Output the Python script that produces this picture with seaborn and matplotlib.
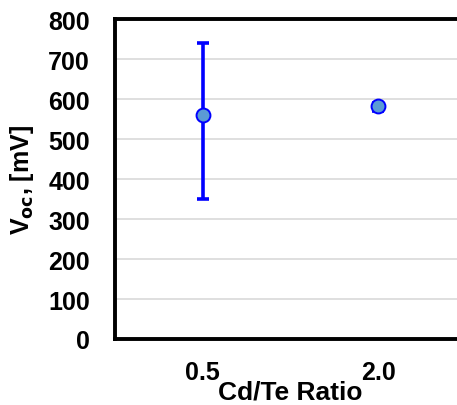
import matplotlib
matplotlib.use("Agg")
import matplotlib.pyplot as plt
import seaborn as sns
import pandas as pd

# values
ratios = ["0.5", "2.0"]
voc = [560, 583]
err_low = [210, 13]
err_high = [180, 6]

sns.set_style("white")
plt.rcParams["font.family"] = ["Liberation Sans", "DejaVu Sans"]
plt.rcParams["font.weight"] = "bold"
for key in ["text.color", "axes.labelcolor", "xtick.color", "ytick.color"]:
    plt.rcParams[key] = "black"

df = pd.DataFrame({"ratio": ratios, "voc": voc})

fig = plt.figure(figsize=(4.57, 4.06), dpi=100)
# axes runs off the right edge, like the cropped original
ax = fig.add_axes([115 / 457, 66 / 406, 351 / 457, 320 / 406])

ax.errorbar(df["ratio"], df["voc"], yerr=[err_low, err_high], fmt="none",
            ecolor="#0000ff", elinewidth=2.6, capsize=4.3, capthick=2.6, zorder=3)
sns.scatterplot(data=df, x="ratio", y="voc", ax=ax, s=100, color="#5b9bd5",
                edgecolor="#0000ff", linewidth=1.4, zorder=4, legend=False)

ax.set_xlim(-0.5, 1.5)
ax.set_ylim(0, 800)
ax.set_yticks(range(0, 801, 100))
ax.yaxis.grid(True, color="#d9d9d9", linewidth=1.2)
ax.set_axisbelow(True)

for side in ["left", "top", "bottom", "right"]:
    ax.spines[side].set_color("black")
    ax.spines[side].set_linewidth(2.8)

ax.tick_params(axis="y", length=0, pad=18, labelsize=18)
ax.tick_params(axis="x", length=0, pad=15, labelsize=18)
for lab in ax.get_xticklabels() + ax.get_yticklabels():
    lab.set_fontweight("bold")

ax.set_xlabel("Cd/Te Ratio", fontsize=19, fontweight="bold")
ax.xaxis.set_label_coords(0.5, -0.128)
ax.set_ylabel(r"V$_\mathbf{oc}$, [mV]", fontsize=18, fontweight="bold")
ax.yaxis.set_label_coords(-0.225, 0.5)

fig.savefig("out.png", dpi=100)
